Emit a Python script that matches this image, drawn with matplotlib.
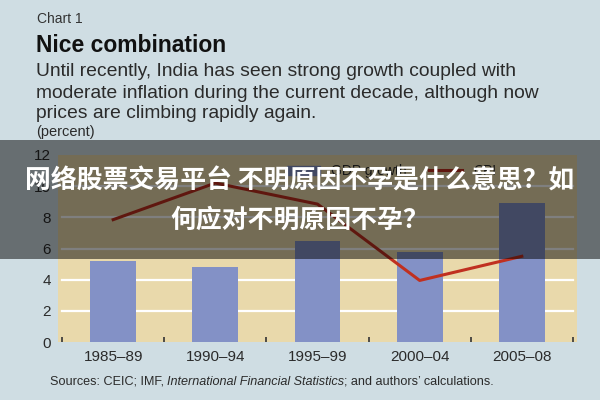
import matplotlib.pyplot as plt
from matplotlib.patches import Rectangle
from matplotlib.lines import Line2D

# data
periods = ['1985–89', '1990–94', '1995–99', '2000–04', '2005–08']
gdp_growth = [5.2, 4.8, 6.5, 5.8, 8.9]
cpi_inflation = [7.85, 10.2, 8.85, 3.95, 5.5]
y_ticks = [0, 2, 4, 6, 8, 10, 12]

bg = '#cfdde3'
plot_bg = '#e9d9ab'
bar_color = '#8391c6'
line_color = '#c03020'
text_color = '#2b2b2b'

plt.rcParams['font.family'] = ['Liberation Sans', 'DejaVu Sans']

fig = plt.figure(figsize=(6, 4), dpi=100, facecolor=bg)
ax = fig.add_axes([58 / 600, 1 - 342 / 400, 519 / 600, 187 / 400])
ax.set_facecolor(plot_bg)

x = list(range(len(periods)))

# white gridlines between the outer ticks
for v in y_ticks[1:-1]:
    ax.plot([-0.5, 4.5], [v, v], color='white', lw=1.6, zorder=1)

ax.bar(x, gdp_growth, width=0.45, color=bar_color, zorder=2)
ax.plot(x, cpi_inflation, color=line_color, lw=2.2, zorder=3)

ax.set_xlim(-0.54, 4.54)
ax.set_ylim(0, 12)
for s in ax.spines.values():
    s.set_visible(False)

ax.set_yticks(y_ticks)
ax.tick_params(axis='y', length=0, pad=5, labelsize=11, labelcolor=text_color)
ax.set_xticks(x)
ax.set_xticklabels(periods)
ax.tick_params(axis='x', which='major', length=0, pad=6, labelsize=11, labelcolor=text_color)
ax.set_xticks([i - 0.5 for i in range(len(periods) + 1)], minor=True)
ax.tick_params(axis='x', which='minor', direction='in', length=3.5, width=1.2, color='#333333')

handles = [Rectangle((0, 0), 1, 1, color=bar_color), Line2D([], [], color=line_color, lw=2.2)]
ax.legend(handles, ['GDP growth', 'CPI'], loc='upper left', bbox_to_anchor=(0.43, 0.98),
          ncol=2, frameon=False, fontsize=10, handlelength=2.4, columnspacing=1.6,
          labelcolor=text_color, borderaxespad=0)

# headings
fig.text(37 / 600, 1 - 19 / 400, 'Chart 1', fontsize=10, color='#333333', va='center')
fig.text(36 / 600, 1 - 46 / 400, 'Nice combination', fontsize=16.5, fontweight='bold',
         color='#111111', va='center')
subtitle = ['Until recently, India has seen strong growth coupled with',
            'moderate inflation during the current decade, although now',
            'prices are climbing rapidly again.']
for line, yc in zip(subtitle, [72, 93, 113]):
    fig.text(36 / 600, 1 - yc / 400, line, fontsize=13.9, color=text_color, va='center')
fig.text(36 / 600, 1 - 132 / 400, '(percent)', fontsize=10.5, color=text_color, va='center')

# sources line, with the italic title in the middle
renderer = fig.canvas.get_renderer()
xpos = 50
for piece, style in [('Sources: CEIC; IMF,', 'normal'),
                     ('International Financial Statistics', 'italic'),
                     ('; and authors\u2019 calculations.', 'normal')]:
    t = fig.text(xpos / 600, 1 - 382 / 400, piece, fontsize=9.1, color=text_color,
                 va='center', style=style)
    xpos += t.get_window_extent(renderer).width
    if piece.endswith(','):
        xpos += 3

# the overlay banner
fig.patches.append(Rectangle((0, 1 - 259 / 400), 1, 119 / 400, transform=fig.transFigure,
                             facecolor='black', alpha=0.5, zorder=10))
cjk = ['Noto Sans CJK SC', 'DejaVu Sans']
fig.text(0.5, 1 - 181 / 400, '网络股票交易平台 不明原因不孕是什么意思？如', family=cjk,
         fontsize=18.6, fontweight='bold', color='white', ha='center', va='center', zorder=11)
fig.text(0.5, 1 - 220 / 400, '何应对不明原因不孕？', family=cjk,
         fontsize=18.6, fontweight='bold', color='white', ha='center', va='center', zorder=11)

fig.savefig('out.png', dpi=100, facecolor=bg)
